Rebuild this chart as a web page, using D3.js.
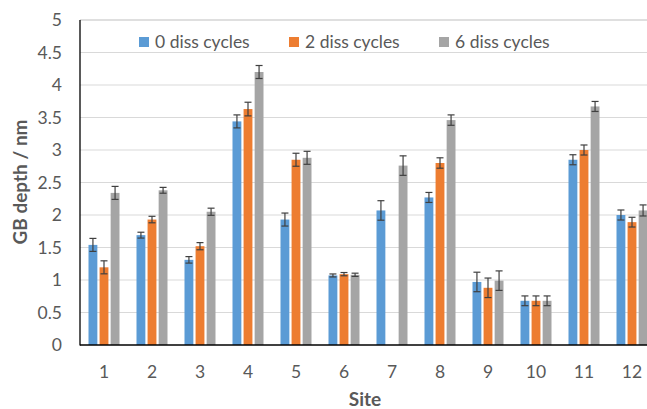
<!DOCTYPE html>
<html><head><meta charset="utf-8">
<script src="https://cdn.jsdelivr.net/npm/d3@7"></script>
<style>body{margin:0;background:#fff}svg{display:block}</style>
</head><body>
<svg id="c" width="647" height="409"></svg>
<script>
const sites = ["1","2","3","4","5","6","7","8","9","10","11","12"];
const seriesNames = ["0 diss cycles","2 diss cycles","6 diss cycles"];
const colors = ["#5b9bd5","#ed7d31","#a5a5a5"];
const vals0 = [1.54,1.69,1.31,3.44,1.93,1.07,2.07,2.27,0.97,0.68,2.85,2.00];
const vals2 = [1.195,1.93,1.52,3.63,2.85,1.09,null,2.80,0.88,0.68,3.00,1.89];
const vals6 = [2.34,2.38,2.05,4.20,2.88,1.08,2.76,3.46,0.99,0.68,3.67,2.07];
const err0 = [0.10,0.045,0.05,0.10,0.10,0.023,0.15,0.077,0.15,0.075,0.077,0.077];
const err2 = [0.10,0.05,0.055,0.105,0.10,0.025,null,0.08,0.15,0.075,0.077,0.075];
const err6 = [0.10,0.045,0.055,0.10,0.10,0.025,0.15,0.08,0.15,0.075,0.077,0.085];
const yTicks = [0,0.5,1,1.5,2,2.5,3,3.5,4,4.5,5];

const values = [vals0, vals2, vals6];
const errs = [err0, err2, err6];
const svg = d3.select("#c");
const font = "Lato, 'Open Sans', sans-serif";
const L = 80, T = 20, B = 345, R = 656;
const x = d3.scaleBand().domain(sites).range([L, R]).paddingInner(0).paddingOuter(0);
const y = d3.scaleLinear().domain([0,5]).range([B, T]);
const xs = d3.scaleBand().domain([0,1,2]).range([0, 31]).paddingInner(0.2);
const gOff = (x.bandwidth() - 31)/2;

// gridlines
svg.append("g").selectAll("line").data(yTicks.filter(d=>d>0)).join("line")
  .attr("x1", L).attr("x2", 647).attr("y1", d=>y(d)).attr("y2", d=>y(d))
  .attr("stroke", d=> d===5 ? "#bfbfbf" : "#d9d9d9").attr("stroke-width", 1);

// bars
const data = [];
sites.forEach((s,i)=>values.forEach((v,k)=>{ if(v[i]!=null) data.push({s,k,v:v[i],e:errs[k][i]}); }));
svg.append("g").selectAll("rect").data(data).join("rect")
  .attr("x", d=>x(d.s)+gOff+xs(d.k)).attr("width", xs.bandwidth())
  .attr("y", d=>y(d.v)).attr("height", d=>B - y(d.v)).attr("fill", d=>colors[d.k]);

// error bars
const eg = svg.append("g").attr("stroke","#404040").attr("stroke-width",1.2);
data.forEach(d=>{
  const cx = x(d.s)+gOff+xs(d.k)+xs.bandwidth()/2;
  eg.append("line").attr("x1",cx).attr("x2",cx).attr("y1",y(d.v+d.e)).attr("y2",y(d.v-d.e));
  [d.v+d.e, d.v-d.e].forEach(t=>eg.append("line").attr("x1",cx-3.5).attr("x2",cx+3.5).attr("y1",y(t)).attr("y2",y(t)));
});

// axes lines
svg.append("line").attr("x1",L).attr("x2",L).attr("y1",T).attr("y2",B+0.5).attr("stroke","#000").attr("stroke-width",1.3);
svg.append("line").attr("x1",L).attr("x2",647).attr("y1",B).attr("y2",B).attr("stroke","#000").attr("stroke-width",1.3);

// y tick labels
svg.append("g").selectAll("text").data(yTicks).join("text")
  .attr("x", 62).attr("y", d=>y(d)).attr("dy","0.35em").attr("text-anchor","end")
  .attr("font-family",font).attr("font-size",17.5).attr("fill","#595959").text(d=>d);

// x tick labels
svg.append("g").selectAll("text").data(sites).join("text")
  .attr("x", d=>x(d)+x.bandwidth()/2).attr("y", 372).attr("dy","0.35em").attr("text-anchor","middle")
  .attr("font-family",font).attr("font-size",17.5).attr("fill","#595959").text(d=>d);

// axis titles
svg.append("text").attr("transform","translate(20,182) rotate(-90)").attr("text-anchor","middle").attr("dy","0.35em")
  .attr("font-family",font).attr("font-size",19).attr("font-weight","bold").attr("fill","#595959").text("GB depth / nm");
svg.append("text").attr("x",365).attr("y",399).attr("text-anchor","middle").attr("dy","0.35em")
  .attr("font-family",font).attr("font-size",19).attr("font-weight","bold").attr("fill","#595959").text("Site");

// legend
const legX = [139, 289, 439];
const lg = svg.append("g");
seriesNames.forEach((n,k)=>{
  lg.append("rect").attr("x",legX[k]).attr("y",37).attr("width",10).attr("height",10).attr("fill",colors[k]);
  lg.append("text").attr("x",legX[k]+16).attr("y",42).attr("dy","0.35em")
    .attr("font-family",font).attr("font-size",17.5).attr("fill","#595959").text(n);
});
</script>
</body></html>
